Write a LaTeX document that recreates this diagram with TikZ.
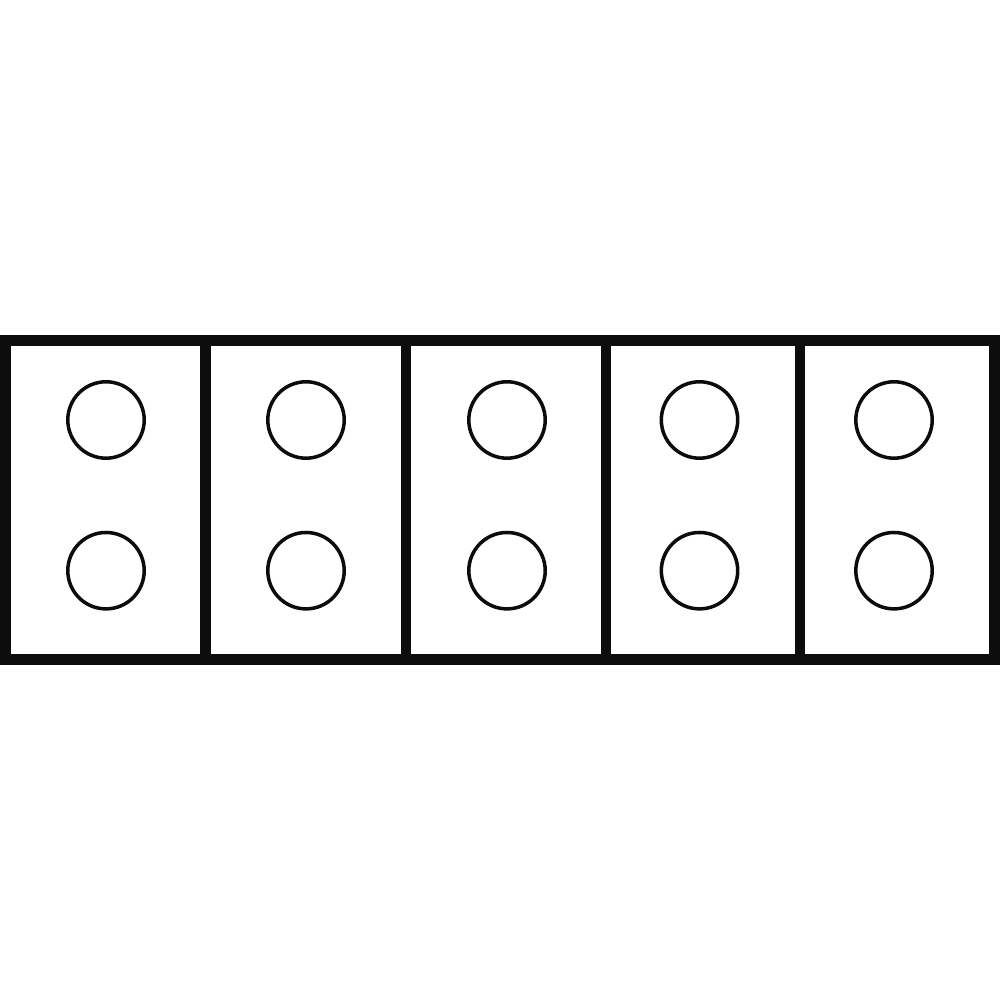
\documentclass[tikz,border=0pt]{standalone}
\usepackage{xcolor}
\definecolor{frame}{RGB}{12,12,12}
\tikzstyle{hole}=[minimum size=.764cm,inner sep=0pt,circle,draw=frame,line width=1pt]
\tikzset{wall/.style={draw=frame,line width=2.98pt}}
\begin{document}
\begin{tikzpicture}
  \useasboundingbox (0,0) rectangle (10,10);
  %% Outer frame and dividers
  \draw[wall] (0.055,3.405) rectangle (9.945,6.595);
  \draw[wall] (2.055,3.405) -- (2.055,6.595);
  \draw[wall] (4.06,3.405) -- (4.06,6.595);
  \draw[wall] (6.06,3.405) -- (6.06,6.595);
  \draw[wall] (8.0,3.405) -- (8.0,6.595);

  %% Holes, two per cell
  \draw (1.06,5.8) node[hole] (H11) {};
  \draw (1.06,4.293) node[hole] (H12) {};

  \draw (3.06,5.8) node[hole] (H21) {};
  \draw (3.06,4.293) node[hole] (H22) {};

  \draw (5.07,5.8) node[hole] (H31) {};
  \draw (5.07,4.293) node[hole] (H32) {};

  \draw (6.995,5.8) node[hole] (H41) {};
  \draw (6.995,4.293) node[hole] (H42) {};

  \draw (8.94,5.8) node[hole] (H51) {};
  \draw (8.94,4.293) node[hole] (H52) {};
\end{tikzpicture}
\end{document}
